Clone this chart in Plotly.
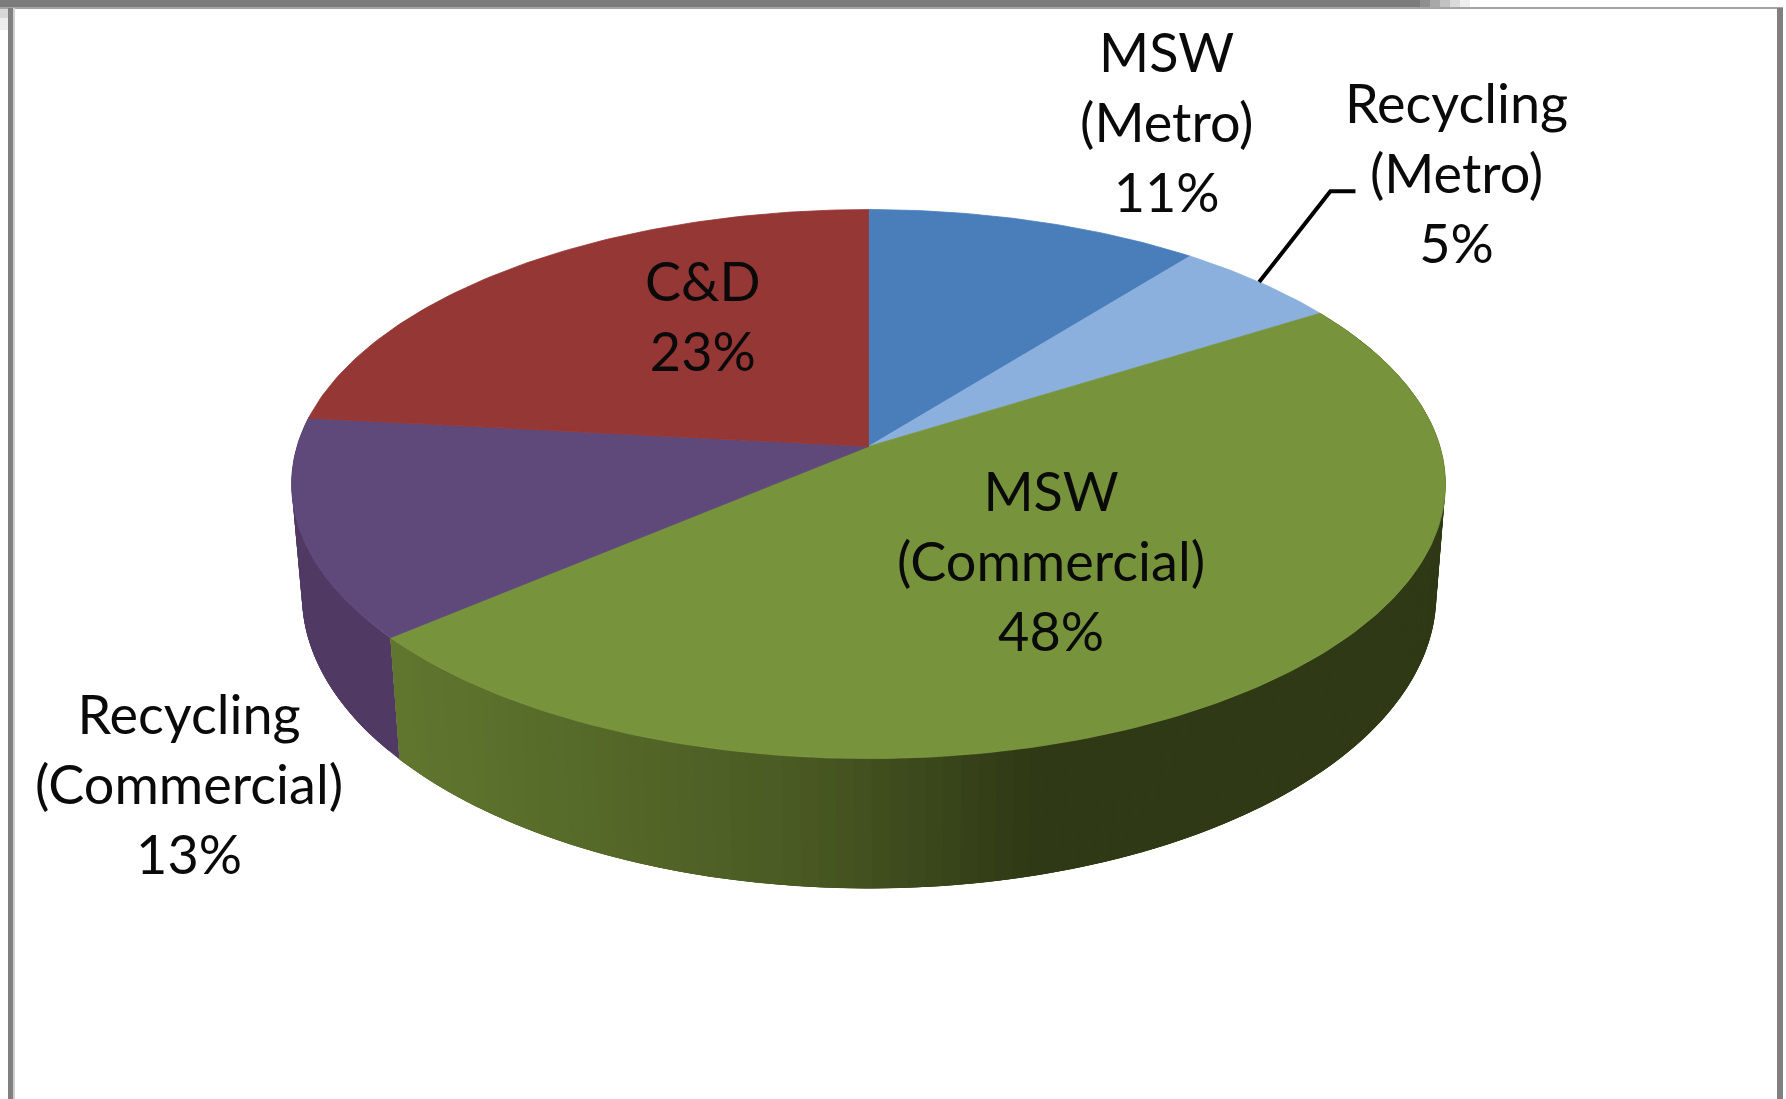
import numpy as np
import plotly.graph_objects as go

# --- data -----------------------------------------------------------------
categories = ["MSW<br>(Metro)", "Recycling<br>(Metro)", "MSW<br>(Commercial)",
              "Recycling<br>(Commercial)", "C&D"]
values = [10.7, 5.4, 47.7, 12.9, 23.3]
top_colors = ["#4A7EBA", "#8BB0DE", "#77933C", "#5F497A", "#953735"]
purple_side = "#503A64"

# --- layout constants (reference pixels scaled to a 1568-wide canvas) ------
W, H = 1786, 1099
XMAX, YMAX = 1568.0, 1568.0 * H / W
label_xy = [(1024, 107), (1279, 151.5), (923, 492), (166, 688), (617, 277)]
FONT = "Lato"
FONT_SIZE = 54

# Perspective ellipses: top face and bottom face of the disc
TOP = dict(cx=762.5, cy=425.0, rx=506.5, ry=241.0, v0=-0.137)
BOT = dict(cx=763.0, cy=522.0, rx=498.0, ry=258.0, v0=-0.135)
grad_x = [342, 513, 700, 807, 900, 1600]
grad_rgb = [(0x61, 0x77, 0x2F), (0x56, 0x6A, 0x29), (0x4A, 0x5A, 0x23),
            (0x3C, 0x49, 0x1C), (0x2F, 0x39, 0x15), (0x2E, 0x38, 0x15)]


def project(percent, e):
    """Clockwise percent from 12 o'clock -> point on a perspective ellipse."""
    t = np.radians(np.asarray(percent, dtype=float) * 3.6)
    a, b = np.sin(t), -np.cos(t)
    d = 1 + b * e["v0"]
    u = a * np.sqrt(1 - e["v0"] ** 2) / d
    v = (b + e["v0"]) / d
    return e["cx"] + u * e["rx"], e["cy"] + v * e["ry"]


def apex(e):
    return e["cx"], e["cy"] + e["v0"] * e["ry"]


def grad_color(x):
    c = [np.interp(x, grad_x, [g[i] for g in grad_rgb]) for i in range(3)]
    return "rgb(%d,%d,%d)" % tuple(round(v) for v in c)


def poly(xs, ys, color, lw=0.8):
    return go.Scatter(x=list(xs), y=list(ys), mode="lines", fill="toself",
                      fillcolor=color, line=dict(color=color, width=lw),
                      hoverinfo="skip", showlegend=False)


def wall_strip(p0, p1, color, lw=0):
    arc = np.linspace(p0, p1, 6)
    tx, ty = project(arc, TOP)
    bx, by = project(arc, BOT)
    return poly(np.r_[tx, bx[::-1]], np.r_[ty, by[::-1]], color, lw)


fig = go.Figure()
edges = np.concatenate([[0], np.cumsum(values)])

# side wall: purple strips first, then the green gradient strips (each strip
# overlaps the next one so no anti-aliased seams appear)
purple = np.linspace(edges[3], edges[3] + 13, 27)
for j in range(len(purple) - 1):
    fig.add_trace(wall_strip(purple[j], purple[min(j + 4, len(purple) - 1)], purple_side))

steps = np.linspace(edges[2], edges[3], 111)
for j in range(len(steps) - 1):
    bx, _ = project(steps[j:j + 2], BOT)
    fig.add_trace(wall_strip(steps[j], steps[min(j + 3, len(steps) - 1)],
                             grad_color(bx.mean())))

# top face
ax0, ay0 = apex(TOP)
for i, col in enumerate(top_colors):
    pp = np.linspace(edges[i], edges[i + 1], int(values[i] * 4) + 2)
    x, y = project(pp, TOP)
    fig.add_trace(poly(np.r_[ax0, x, ax0], np.r_[ay0, y, ay0], col))

# leader line: from the middle of the small slice's rim to its label
lx, ly = project((edges[1] + edges[2]) / 2, TOP)
fig.add_trace(go.Scatter(x=[float(lx), 1168, 1190], y=[float(ly), 168, 168],
                         mode="lines", line=dict(color="#000000", width=4),
                         hoverinfo="skip", showlegend=False))

# data labels
for cat, val, (x, y) in zip(categories, values, label_xy):
    fig.add_annotation(x=x, y=y, text=f"{cat}<br>{round(val)}%", showarrow=False,
                       xanchor="center", yanchor="middle", align="center",
                       font=dict(family=FONT, size=FONT_SIZE, color="#0A0A0A"))

# picture frame (image pixels)
G = "#808080"
frame = [
    (0, 0, 1420, 7, "#7C7C7C"), (1420, 0, 1430, 7, "#8F8F8F"), (1430, 0, 1440, 7, "#A8A8A8"),
    (1440, 0, 1450, 7, "#C2C2C2"), (1450, 0, 1460, 7, "#DADADA"), (1460, 0, 1470, 7, "#EEEEEE"),
    (0, 7, 1783, 9, "#A4A4A4"), (0, 9, 8, 18, "#D8D8D8"), (0, 18, 8, 30, "#EEEEEE"),
    (8, 8, 13, 1099, G), (13, 8, 15, 1099, "#D0D0D0"),
    (1777, 8, 1783, 1099, G),
]
shapes = []
k = XMAX / W
for x0, y0, x1, y1, c in frame:
    shapes.append(dict(type="rect", xref="x", yref="y", x0=x0 * k, x1=x1 * k,
                       y0=y0 * k, y1=y1 * k, fillcolor=c, line=dict(width=0),
                       layer="below"))

fig.update_layout(
    width=W, height=H, autosize=False,
    margin=dict(l=0, r=0, t=0, b=0),
    paper_bgcolor="#FFFFFF", plot_bgcolor="#FFFFFF",
    showlegend=False, shapes=shapes,
    xaxis=dict(range=[0, XMAX], visible=False, fixedrange=True),
    yaxis=dict(range=[YMAX, 0], visible=False, fixedrange=True),
)
fig.write_html("out.html", config={"displayModeBar": False},
               post_script="document.body.style.margin='0';document.documentElement.style.overflow='hidden';")
